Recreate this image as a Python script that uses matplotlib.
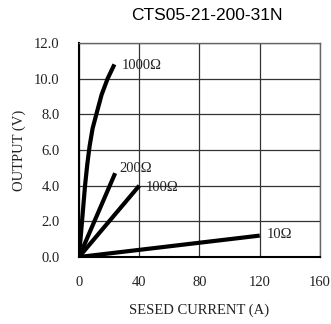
import matplotlib
matplotlib.use("Agg")
import matplotlib.pyplot as plt

# curve data
r1000_x = [0, 2.0, 4.0, 5.5, 7.0, 9.0, 11.5, 15.0, 19.0, 23.5]
r1000_y = [0, 2.0, 4.0, 5.2, 6.2, 7.2, 8.0, 9.1, 10.0, 10.8]
r200_x = [0, 24]
r200_y = [0, 4.7]
r100_x = [0, 40]
r100_y = [0, 4.0]
r10_x = [0, 120]
r10_y = [0, 1.2]

curve_labels = ["1000Ω", "200Ω", "100Ω", "10Ω"]
label_pos = [(28.5, 10.75), (26.5, 4.95), (44, 3.9), (124.5, 1.25)]

xticks = [0, 40, 80, 120, 160]
yticks = [0, 2, 4, 6, 8, 10, 12]

serif = ["Liberation Serif", "DejaVu Serif"]

fig = plt.figure(figsize=(3.31, 3.24), dpi=100)
ax = fig.add_axes([0.2387, 0.2068, 0.728, 0.6605])

for xs, ys in [(r1000_x, r1000_y), (r200_x, r200_y), (r100_x, r100_y), (r10_x, r10_y)]:
    ax.plot(xs, ys, color="black", lw=3.0, solid_capstyle="butt",
            solid_joinstyle="round", zorder=3)

for lab, (x, y) in zip(curve_labels, label_pos):
    ax.text(x, y, lab, fontsize=10.5, family=serif, va="center", ha="left", color="#222222")

ax.set_xlim(0, 160)
ax.set_ylim(0, 12)
ax.set_xticks(xticks)
ax.set_yticks(yticks)
ax.set_xticklabels([str(v) for v in xticks], family=serif, fontsize=10.5)
ax.set_yticklabels(["%.1f" % v for v in yticks], family=serif, fontsize=10.5)
ax.tick_params(length=0, colors="#222222")
ax.tick_params(axis="y", pad=14)
ax.tick_params(axis="x", pad=14)
ax.grid(True, color="#333333", lw=0.9)
ax.set_axisbelow(True)
for side in ["left", "bottom"]:
    ax.spines[side].set_color("black")
    ax.spines[side].set_linewidth(1.5)
for side in ["top", "right"]:
    ax.spines[side].set_color("#666666")
    ax.spines[side].set_linewidth(1.0)

ax.set_xlabel("SESED CURRENT (A)", family=serif, fontsize=10.5, labelpad=10, color="#222222")
ax.set_ylabel("OUTPUT (V)", family=serif, fontsize=10.5, labelpad=6, color="#222222")
fig.text(207 / 331, 1 - 16 / 324, "CTS05-21-200-31N", family=["Liberation Sans"],
         fontsize=12.5, ha="center", va="center")

fig.savefig("out.png", dpi=100)
